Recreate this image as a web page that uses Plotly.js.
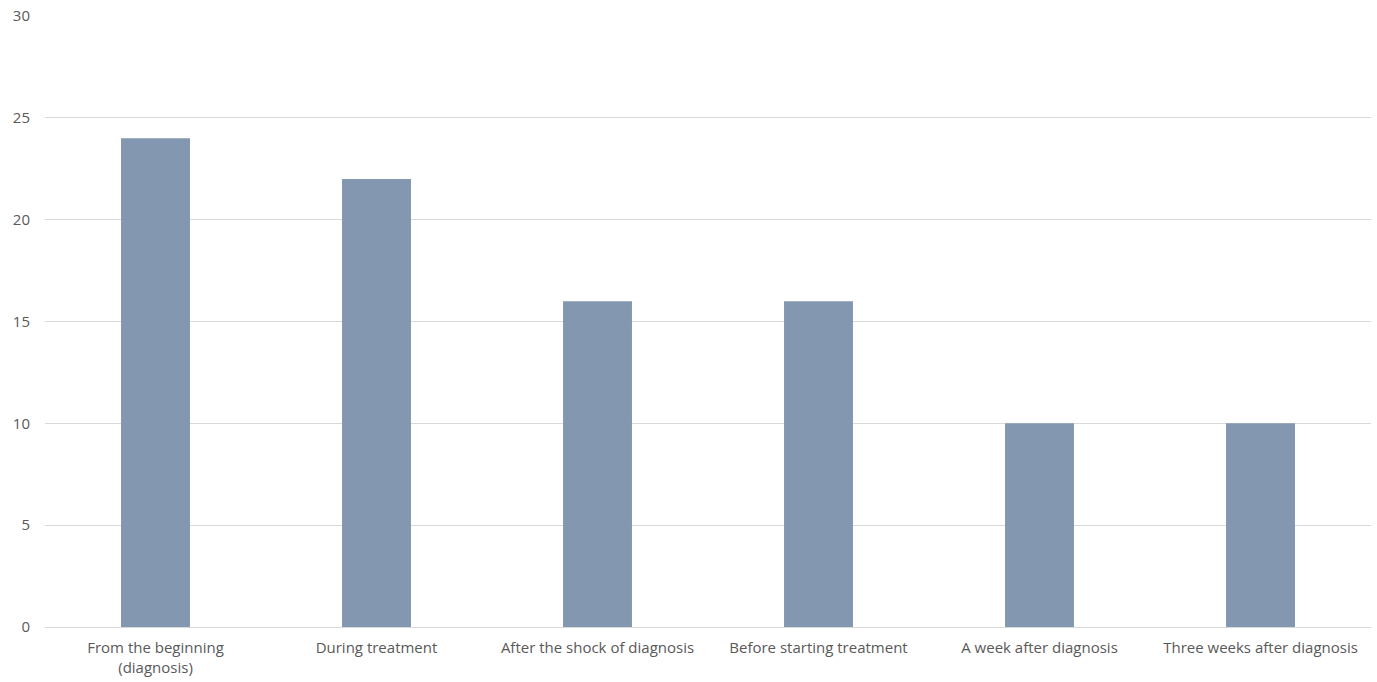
<!DOCTYPE html>
<html>
<head>
<meta charset="utf-8">
<script src="https://cdn.plot.ly/plotly-3.0.1.min.js"></script>
<style>
  html, body { margin: 0; padding: 0; background: #ffffff; }
  #chart { width: 1377px; height: 682px; }
</style>
</head>
<body>
<div id="chart"></div>
<script>
// Categories and counts
const categories = [
  "From the beginning<br>(diagnosis)",
  "During treatment",
  "After the shock of diagnosis",
  "Before starting treatment",
  "A week after diagnosis",
  "Three weeks after diagnosis"
];
const counts = [24, 22, 16, 16, 10, 10];
const yTicks = [0, 5, 10, 15, 20, 25, 30];

const trace = {
  type: "bar",
  x: categories,
  y: counts,
  marker: { color: "#8497B0" },
  width: 0.312,
  hoverinfo: "x+y"
};

const layout = {
  width: 1377,
  height: 682,
  margin: { l: 45, r: 6, t: 16, b: 55 },
  paper_bgcolor: "#ffffff",
  plot_bgcolor: "#ffffff",
  showlegend: false,
  font: { family: "Open Sans, Noto Sans, sans-serif", size: 15, color: "#595959" },
  xaxis: {
    type: "category",
    showgrid: false,
    zeroline: false,
    showline: false,
    ticks: "",
    ticklabelstandoff: 10,
    tickfont: { size: 15, color: "#595959" },
    automargin: false
  },
  yaxis: {
    range: [0, 30],
    tickvals: yTicks,
    ticktext: yTicks.map(String),
    showgrid: true,
    gridcolor: "#d9d9d9",
    gridwidth: 1,
    zeroline: true,
    zerolinecolor: "#d9d9d9",
    zerolinewidth: 1,
    showline: false,
    ticks: "",
    ticklabelstandoff: 14,
    tickfont: { size: 15, color: "#595959" },
    automargin: false
  },
  bargap: 0.688
};

Plotly.newPlot("chart", [trace], layout, { displayModeBar: false, staticPlot: true });
</script>
</body>
</html>
